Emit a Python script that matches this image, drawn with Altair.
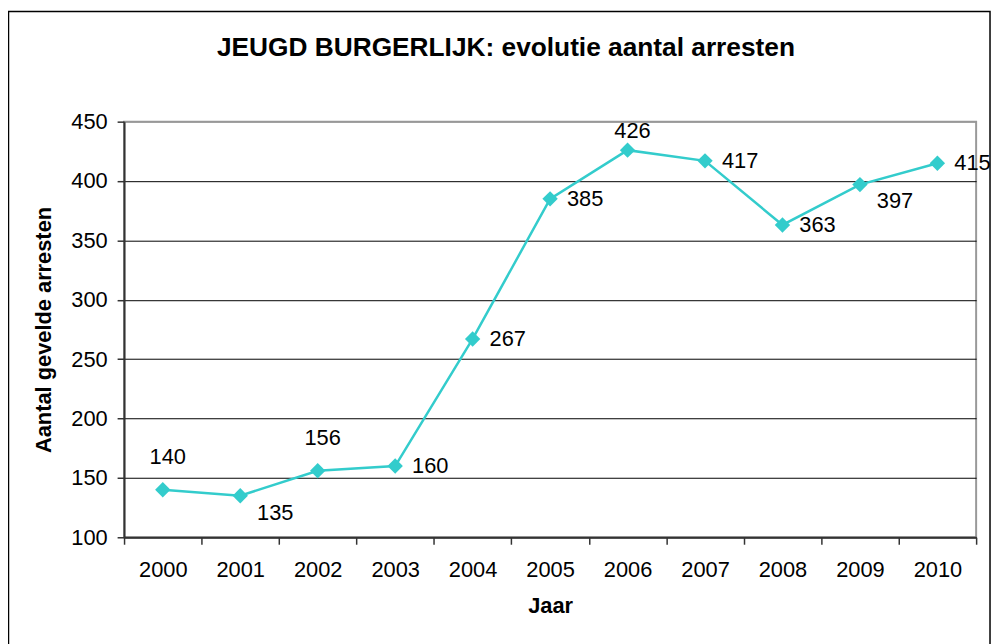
import altair as alt
import pandas as pd

years = ["2000", "2001", "2002", "2003", "2004", "2005", "2006", "2007", "2008", "2009", "2010"]
values = [140, 135, 156, 160, 267, 385, 426, 417, 363, 397, 415]
label_place = ["above", "below_right", "above", "right", "right", "right",
               "above_near", "right", "right", "below_right", "right"]
y_ticks = [100, 150, 200, 250, 300, 350, 400, 450]
title_text = "JEUGD BURGERLIJK: evolutie aantal arresten"

df = pd.DataFrame({"year": years, "value": values, "place": label_place})

FONT = "Liberation Sans"
LINE = "#33CCCC"

x_enc = alt.X(
    "year:O",
    scale=alt.Scale(type="band", paddingInner=0, paddingOuter=0),
    axis=alt.Axis(
        title="Jaar", labelAngle=0, tickBand="extent", tickSize=7,
        labelPadding=16, titlePadding=15,
    ),
)
y_enc = alt.Y(
    "value:Q",
    scale=alt.Scale(domain=[100, 450], nice=False, zero=False),
    axis=alt.Axis(
        title="Aantal gevelde arresten", values=y_ticks, tickSize=7,
        labelPadding=10, titlePadding=15, grid=True,
        gridColor={"condition": {"test": "datum.value === 450", "value": "#999999"}, "value": "#000000"},
    ),
)

frame = alt.Chart(pd.DataFrame({"a": [0]})).mark_rect(
    fill="white", fillOpacity=0, stroke="black", strokeWidth=1.5
).encode(
    x=alt.value(-116.5), x2=alt.value(873), y=alt.value(-111), y2=alt.value(700)
)

title = alt.Chart(pd.DataFrame({"t": [title_text]})).mark_text(
    font=FONT, fontSize=26.5, fontWeight="bold", color="black",
    align="center", baseline="middle"
).encode(x=alt.value(385), y=alt.value(-74), text="t:N")

base = alt.Chart(df)
line = base.mark_line(color=LINE, strokeWidth=2.5).encode(x=x_enc, y=y_enc)
pts = base.mark_point(shape="diamond", filled=True, color=LINE, size=240, opacity=1).encode(
    x="year:O", y="value:Q"
)

offsets = {
    "above": (5, -33, "center"),
    "above_near": (5, -19, "center"),
    "right": (17, 0, "left"),
    "below_right": (17, 17, "left"),
}
labels = []
for name, (dx, dy, align) in offsets.items():
    labels.append(
        base.transform_filter(alt.datum.place == name)
        .mark_text(font=FONT, fontSize=22, color="black", dx=dx, dy=dy,
                   align=align, baseline="middle")
        .encode(x="year:O", y="value:Q", text="value:Q")
    )

chart = (
    alt.layer(frame, title, line, pts, *labels)
    .properties(
        width=859,
        height=419,
        autosize=alt.AutoSizeParams(type="none"),
        padding={"left": 117, "top": 112, "right": 16, "bottom": 105},
    )
    .configure_view(stroke="#999999", strokeWidth=2)
    .configure_axis(
        labelFont=FONT, labelFontSize=22, labelColor="black",
        titleFont=FONT, titleFontSize=22, titleFontWeight="bold", titleColor="black",
        domainColor="#333333", domainWidth=2, tickColor="#333333", tickWidth=1.5,
        gridWidth=1,
    )
)

chart.save("out.html", embed_options={"renderer": "svg", "actions": False})
